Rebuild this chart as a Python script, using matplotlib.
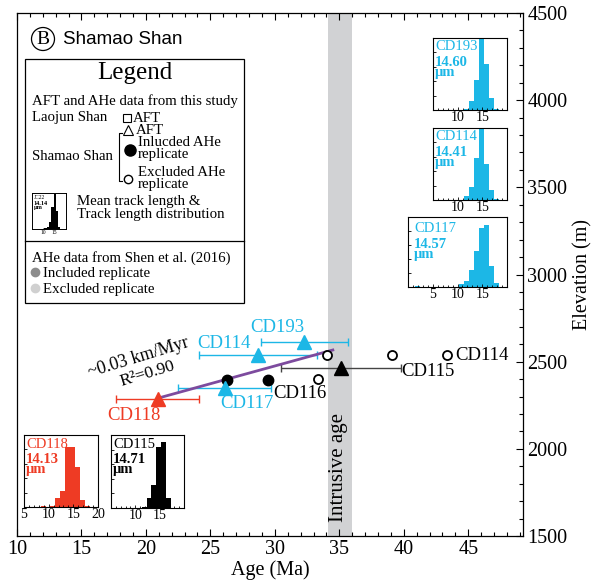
import numpy as np
import matplotlib
matplotlib.use('Agg')
import matplotlib.pyplot as plt
from matplotlib.patches import Rectangle, Circle
from matplotlib.ticker import MultipleLocator

W, H = 597, 583
plt.rcParams['font.family'] = ['Liberation Serif', 'DejaVu Serif']

CYAN = '#1CB7E6'
RED = '#EE3B24'
PURPLE = '#7D4B9E'
BAND = '#D1D2D4'

# ---------------- data ----------------
aft_samples = ['CD118', 'CD117', 'CD114', 'CD193', 'CD115']
aft_age = [20.9, 26.1, 28.7, 32.3, 35.1]
aft_err = [3.2, 3.6, 4.6, 3.4, 4.65]
aft_elev = [2286, 2349, 2538, 2613, 2464]
aft_color = [RED, CYAN, CYAN, CYAN, 'black']
aft_errcolor = [RED, CYAN, CYAN, CYAN, '#444444']

ahe_inc_age = [26.3, 29.5]
ahe_inc_elev = [2395, 2395]
ahe_exc_age = [34.05, 33.35, 39.1, 43.35]
ahe_exc_elev = [2538, 2401, 2538, 2538]

fit_age = [21.25, 34.5]
fit_elev = [2297, 2567]

intrusive_age = [34.1, 36.0]

x_ticks = [10, 15, 20, 25, 30, 35, 40, 45]
y_ticks = [1500, 2000, 2500, 3000, 3500, 4000, 4500]

# track length histograms
h193_bin = [11.8, 12.8, 13.8, 14.8, 15.8, 16.8, 17.8]
h193_cnt = [1, 6, 21, 50, 32, 8, 1]
h114_bin = [11.8, 12.8, 13.8, 14.8, 15.8, 16.8, 17.8]
h114_cnt = [3, 9, 29, 49, 25, 7, 1]
h117_bin = [2.0, 10.8, 11.8, 12.8, 13.8, 14.8, 15.8, 16.8, 17.8]
h117_cnt = [1, 2, 4, 12, 26, 42, 44, 15, 3]
h118_bin = [9.0, 10.8, 11.8, 12.8, 13.8, 14.8, 15.8, 16.8, 17.8]
h118_cnt = [1, 1, 6, 11, 42, 42, 28, 5, 1]
h115_bin = [11.8, 12.8, 13.8, 14.8, 15.8, 16.8]
h115_cnt = [1, 7, 16, 42, 45, 7]
hleg_bin = [11, 12, 13, 14, 15, 16, 17]
hleg_cnt = [1, 3, 10, 30, 48, 25, 3]

# ---------------- figure ----------------
fig = plt.figure(figsize=(W / 100, H / 100), dpi=100)

def px_axes(x0, y0, x1, y1, **kw):
    return fig.add_axes([x0 / W, 1 - y1 / H, (x1 - x0) / W, (y1 - y0) / H], **kw)

ax = px_axes(17, 13, 523, 536)
ax.set_xlim(10, 49.25)
ax.set_ylim(1500, 4500)
ax.axvspan(intrusive_age[0], intrusive_age[1], color=BAND, lw=0, zorder=0)

# regression line
ax.plot(fit_age, fit_elev, color=PURPLE, lw=2, zorder=3)

# AFT error bars + triangles
for a, e, el, c, ec in zip(aft_age, aft_err, aft_elev, aft_color, aft_errcolor):
    ax.errorbar([a], [el], xerr=[e], fmt='none', ecolor=ec, elinewidth=1,
                capsize=3, capthick=1, zorder=2)
    ax.plot([a], [el], marker='^', ms=9.5, color=c, mec=c, ls='none', zorder=5)

# AHe
ax.plot(ahe_inc_age, ahe_inc_elev, 'o', ms=7.5, color='black', zorder=4)
ax.plot(ahe_exc_age, ahe_exc_elev, 'o', ms=6.5, mfc='white', mec='black', mew=1.3, zorder=4)

ax.set_xticks(x_ticks)
ax.set_yticks(y_ticks)
ax.xaxis.set_minor_locator(MultipleLocator(1))
ax.yaxis.set_minor_locator(MultipleLocator(100))
ax.yaxis.tick_right()
ax.yaxis.set_label_position('right')
ax.tick_params(axis='both', which='both', direction='in', top=True, bottom=True,
               left=False, right=True, labelleft=False, labelright=True,
               labelsize=14.5, width=0.8)
ax.tick_params(which='major', length=5, pad=3)
ax.tick_params(which='minor', length=3)
ax.set_xlabel('Age (Ma)', fontsize=14.5, labelpad=1)
ax.set_ylabel('Elevation (m)', fontsize=14.5, labelpad=4)
for s in ax.spines.values():
    s.set_linewidth(0.9)

# ---------------- overlay (pixel coords) ----------------
ov = fig.add_axes([0, 0, 1, 1], facecolor='none')
ov.set_xlim(0, W)
ov.set_ylim(H, 0)
ov.axis('off')

# title
ov.add_patch(Circle((43, 39), 11.5, fill=False, lw=0.9, color='black'))
ov.text(43, 40, 'B', fontsize=14, ha='center', va='center')
ov.text(63, 40, 'Shamao Shan', fontsize=13.5, ha='left', va='center',
        family='Liberation Sans')

# sample labels
labels = [('CD193', 277, 327, CYAN), ('CD114', 224, 343, CYAN),
          ('CD117', 247, 404, CYAN), ('CD118', 134, 415, RED),
          ('CD116', 300, 393, 'black'), ('CD115', 428, 371, 'black'),
          ('CD114', 482, 356, 'black')]
for t, x, y, c in labels:
    ov.text(x, y, t, color=c, fontsize=13.5, ha='center', va='center')

ov.text(138, 358, '~0.03 km/Myr', rotation=17, rotation_mode='anchor',
        ha='center', va='center', fontsize=13)
ov.text(147, 374, 'R²=0.90', rotation=17, rotation_mode='anchor',
        ha='center', va='center', fontsize=12.5)
ov.text(339, 467, 'Intrusive age', rotation=90, ha='center', va='center', fontsize=15)

# legend box
ov.add_patch(Rectangle((25, 59), 219, 244, facecolor='white', edgecolor='black', lw=0.9))
ov.plot([25, 244], [241, 241], color='black', lw=0.9)
ov.text(135, 73, 'Legend', fontsize=18, ha='center', va='center')
fs = 10.7
ov.text(32, 104.5, 'AFT and AHe data from this study', fontsize=fs, va='baseline')
ov.text(32, 121.5, 'Laojun Shan', fontsize=fs, va='baseline')
ov.plot([127], [117.5], marker='s', ms=6, mfc='none', mec='black', mew=0.8)
ov.text(133, 121.5, 'AFT', fontsize=fs, va='baseline')
ov.plot([128], [130], marker='^', ms=7, mfc='none', mec='black', mew=0.8)
ov.text(136, 133.5, 'AFT', fontsize=fs, va='baseline')
ov.plot([130], [150], marker='o', ms=8, color='black')
ov.text(138, 136.5, 'Inlucded AHe\nreplicate', fontsize=fs, va='top', linespacing=0.85)
ov.text(32, 160.5, 'Shamao Shan', fontsize=fs, va='baseline')
ov.plot([128], [179], marker='o', ms=6, mfc='none', mec='black', mew=1)
ov.text(138, 166.5, 'Excluded AHe\nreplicate', fontsize=fs, va='top', linespacing=0.85)
ov.plot([122, 119, 119, 122], [133, 133, 181, 181], color='black', lw=0.8)
ov.text(77, 194.5, 'Mean track length &\nTrack length distribution', fontsize=fs,
        va='top', linespacing=1.05)
ov.text(32, 261.5, 'AHe data from Shen et al. (2016)', fontsize=fs, va='baseline')
ov.plot([35], [272], marker='o', ms=6, color='#8C8C8C')
ov.text(43, 276.5, 'Included replicate', fontsize=fs, va='baseline')
ov.plot([35], [288], marker='o', ms=6, color='#D0D0D0')
ov.text(43, 292.5, 'Excluded replicate', fontsize=fs, va='baseline')

# ---------------- histogram insets ----------------
def hist_inset(box, centers, counts, color, xlim, xt, name, mtl, ytop=50,
               fsz=10.5, tsz=10, offs=(2, 9, 18)):
    x0, y0, x1, y1 = box
    w, h = x1 - x0, y1 - y0
    a = px_axes(x0, y0, x1, y1)
    a.bar(centers, counts, width=1.0, color=color, lw=0)
    a.set_xlim(*xlim)
    a.set_ylim(0, ytop)
    a.set_xticks(xt)
    a.xaxis.set_minor_locator(MultipleLocator(1))
    a.set_yticks(np.arange(0, ytop, 10))
    a.tick_params(which='both', direction='in', labelleft=False, labelsize=tsz,
                  pad=1, width=0.6, length=2.5)
    a.tick_params(which='minor', length=1.5)
    for s in a.spines.values():
        s.set_linewidth(0.8)
    dx, d1, d2 = offs
    a.text(dx / w, 1 - d1 / h, name, transform=a.transAxes, color=color,
           fontsize=fsz, va='center', ha='left')
    a.text(dx / w, 1 - d2 / h, mtl + '\nµm', transform=a.transAxes, color=color,
           fontsize=fsz, va='top', ha='left', weight='bold', linespacing=0.68)
    return a

hist_inset((433, 38, 507, 110), h193_bin, h193_cnt, CYAN, (5, 20), [10, 15], 'CD193', '14.60')
hist_inset((433, 128, 507, 200), h114_bin, h114_cnt, CYAN, (5, 20), [10, 15], 'CD114', '14.41')
hist_inset((408, 217, 507, 287), h117_bin, h117_cnt, CYAN, (0, 20), [5, 10, 15], 'CD117', '14.57',
           offs=(6, 11, 21))
hist_inset((24, 435, 98, 507), h118_bin, h118_cnt, RED, (5, 20), [5, 10, 15, 20], 'CD118', '14.13')
hist_inset((111, 435, 184, 508), h115_bin, h115_cnt, 'black', (5, 20), [10, 15], 'CD115', '14.71')

# legend mini histogram
al = px_axes(32, 193, 66, 229)
al.bar(hleg_bin, hleg_cnt, width=1.0, color='black', lw=0)
al.set_xlim(5, 20)
al.set_ylim(0, 50)
al.set_xticks([10, 15])
al.set_yticks([])
al.tick_params(direction='in', labelsize=4, pad=0.5, length=1, width=0.5)
for s in al.spines.values():
    s.set_linewidth(0.7)
al.text(0.05, 0.88, 'JC22', transform=al.transAxes, fontsize=4, va='center')
al.text(0.05, 0.66, '14.14\nµm', transform=al.transAxes, fontsize=4.5, va='center',
        weight='bold', linespacing=0.8)

fig.savefig('out.png', dpi=100)
